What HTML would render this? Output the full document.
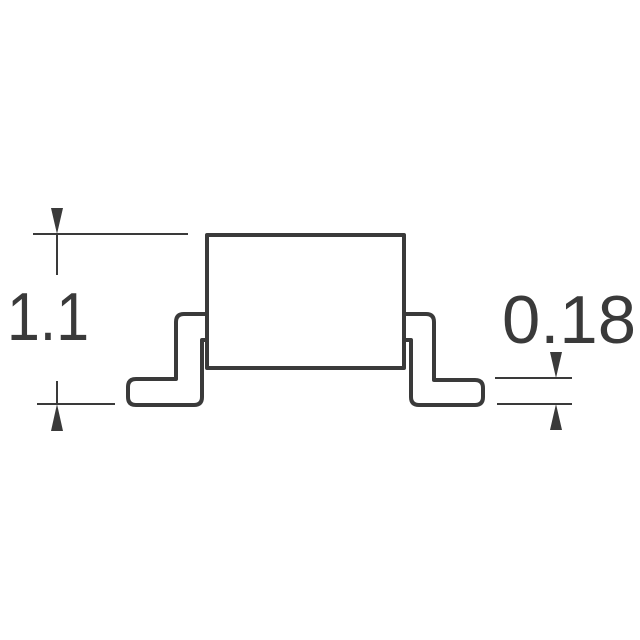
<!DOCTYPE html>
<html><head><style>html,body{margin:0;padding:0;background:#fff;width:640px;height:640px;overflow:hidden}</style></head>
<body>
<svg width="640" height="640" viewBox="0 0 640 640" xmlns="http://www.w3.org/2000/svg">
<g fill="none" stroke="#3a3a3a" stroke-width="4" stroke-linejoin="round">
<rect x="207" y="235" width="197" height="133"/>
<path d="M207 314 H184 Q176 314 176 322 V379 H136 Q128 379 128 387 V397 Q128 405 136 405 H194 Q202 405 202 397 V340 H207"/>
<path d="M405 314 H426 Q434 314 434 322 V380 H475 Q483 380 483 388 V397 Q483 405 475 405 H419 Q411 405 411 397 V340 H405"/>
</g>
<g stroke="#3a3a3a" stroke-width="2">
<line x1="33" y1="234" x2="188" y2="234"/>
<line x1="37" y1="404" x2="115" y2="404"/>
<line x1="57" y1="234" x2="57" y2="275"/>
<line x1="57" y1="381" x2="57" y2="404"/>
<line x1="495" y1="378" x2="572" y2="378"/>
<line x1="497" y1="404" x2="572" y2="404"/>
</g>
<g fill="#3a3a3a">
<polygon points="51,208 63,208 57,234"/>
<polygon points="51,431 63,431 57,404"/>
<polygon points="550,352 562,352 556,378"/>
<polygon points="550,430 562,430 556,404"/>
</g>
<g font-family="Liberation Sans, sans-serif" font-size="68" fill="#3a3a3a">
<text x="7" y="340" textLength="82" lengthAdjust="spacingAndGlyphs">1.1</text>
<text x="502" y="343" textLength="134" lengthAdjust="spacingAndGlyphs">0.18</text>
</g>
</svg>
</body></html>
